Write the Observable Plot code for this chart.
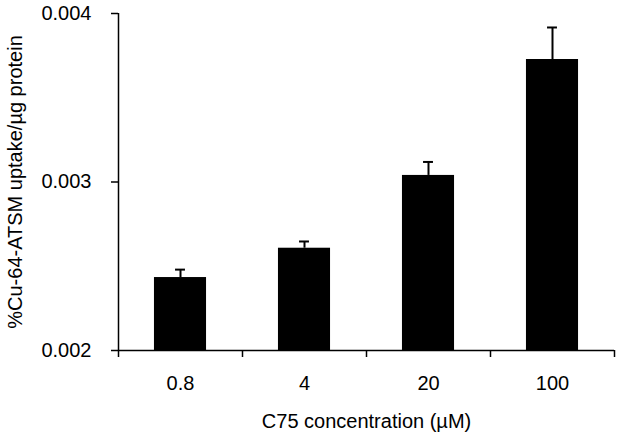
<!DOCTYPE html>
<html>
<head>
<meta charset="utf-8">
<script src="https://cdn.jsdelivr.net/npm/d3@7"></script>
<script src="https://cdn.jsdelivr.net/npm/@observablehq/plot@0.6"></script>
<style>
  html, body { margin: 0; padding: 0; background: #fff; }
  #chart svg { display: block; }
</style>
</head>
<body>
<div id="chart"></div>
<script>
const categories = ["0.8", "4", "20", "100"];
const values = [0.002433, 0.002607, 0.003039, 0.003727];
const errors = [0.000047, 0.000040, 0.000080, 0.000190];
const yTicks = [0.002, 0.003, 0.004];

const data = categories.map((c, i) => ({c, i, v: values[i], e: errors[i]}));
const font = "Liberation Sans, Arial, sans-serif";

const chart = Plot.plot({
  width: 629,
  height: 440,
  marginLeft: 118,
  marginRight: 15,
  marginTop: 13,
  marginBottom: 90,
  style: {fontFamily: font, fontSize: "20px", color: "#000", background: "#fff"},
  x: {domain: [0, 4]},
  y: {domain: [0.002, 0.004]},
  marks: [
    Plot.rectY(data, {x1: d => d.i + 0.29, x2: d => d.i + 0.71, y1: () => yTicks[0], y2: "v", fill: "#000"}),
    Plot.ruleX(data, {x: d => d.i + 0.5, y1: "v", y2: d => d.v + d.e, stroke: "#000", strokeWidth: 2}),
    Plot.ruleY(data, {y: d => d.v + d.e, x1: d => d.i + 0.46, x2: d => d.i + 0.54, stroke: "#000", strokeWidth: 2}),
    Plot.ruleY([yTicks[0]], {stroke: "#000", strokeWidth: 1.5}),
    Plot.ruleX([0], {stroke: "#000", strokeWidth: 1.5}),
    Plot.axisY({ticks: yTicks, tickFormat: d3.format(".3f"), tickSize: 7, tickPadding: 20, strokeWidth: 1.5, fontSize: 20, label: null}),
    Plot.axisX({ticks: [0, 1, 2, 3, 4], tickFormat: () => "", tickSize: 7, strokeWidth: 1.5, label: null}),
    Plot.axisX({ticks: [0.5, 1.5, 2.5, 3.5], tickFormat: v => categories[Math.floor(v)], tickSize: 0, tickPadding: 25, fontSize: 20, label: null}),
    Plot.text(["C75 concentration (µM)"], {frameAnchor: "bottom", dy: 77, text: d => d, fontSize: 20, fill: "#000"}),
    Plot.text(["%Cu-64-ATSM uptake/µg protein"], {frameAnchor: "left", textAnchor: "middle", dx: -103, rotate: -90, text: d => d, fontSize: 20, fill: "#000", style: {letterSpacing: "0.3px"}})
  ]
});
document.getElementById("chart").appendChild(chart);
</script>
</body>
</html>
